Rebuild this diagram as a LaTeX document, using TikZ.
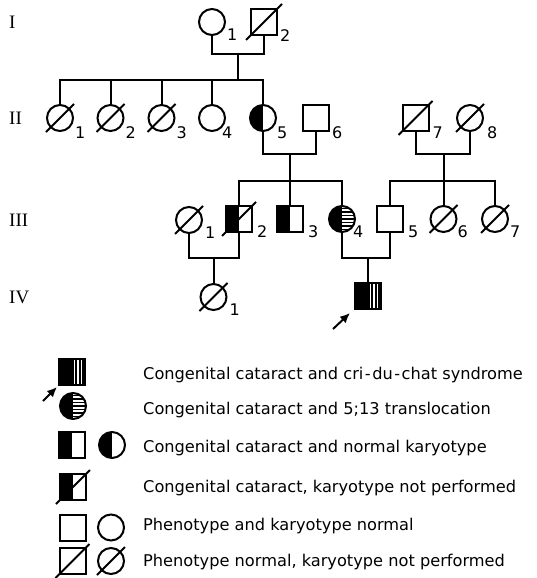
\documentclass[tikz,border=0pt]{standalone}
\usepackage{fontspec}
\newfontfamily\labfont{DejaVu Sans}
\newfontfamily\genfont{Liberation Serif}
\usetikzlibrary{arrows.meta}
\tikzset{
 sym/.style={draw, inner sep=0pt, minimum size=26pt, line width=2pt},
 sq/.style={sym, rectangle},
 ci/.style={sym, circle},
 halfblk/.style={path picture={\fill[black] (path picture bounding box.south west) rectangle (path picture bounding box.north);}},
 vstripes/.style={path picture={\fill[black] (path picture bounding box.south west) rectangle (path picture bounding box.north east);
   \foreach \d in {2.5,6,9.5}{\draw[white,line width=1.1pt] ([xshift=\d pt]path picture bounding box.north) -- ([xshift=\d pt]path picture bounding box.south);}}},
 hstripes/.style={path picture={\fill[black] (path picture bounding box.south west) rectangle (path picture bounding box.north);
   \foreach \d in {-10.5,-7,-3.5,0,3.5,7,10.5}{\draw[black,line width=1.6pt] ([yshift=\d pt]path picture bounding box.center) -- ([yshift=\d pt]path picture bounding box.east);}}},
 num/.style={font=\labfont\fontsize{16}{16}\selectfont, inner sep=0pt, anchor=base west},
 gen/.style={font=\genfont\fontsize{19}{20}\selectfont, inner sep=0pt, anchor=west},
 legtxt/.style={font=\labfont\fontsize{16.2}{18}\selectfont, inner sep=0pt, anchor=base west},
 ln/.style={line width=2pt},
 pointer/.style={line width=2pt, -{Latex[length=10pt,width=9pt]}},
}
\newcommand\pedstrike[2]{\draw[ln] ([shift={(-#2,#2)}]#1.center) -- ([shift={(#2,-#2)}]#1.center);}
\begin{document}
\begin{tikzpicture}[x=1pt,y=-1pt]
\useasboundingbox (0,0) rectangle (536,578);
% generation labels
\node[gen] (gI) at (9,22) {I};
\node[gen] (gII) at (9,118) {II};
\node[gen] (gIII) at (9,220) {III};
\node[gen] (gIV) at (9,297) {IV};
% generation I
\node[ci] (I1) at (212,22) {};
\node[sq] (I2) at (264,22) {};
\pedstrike{I2}{18}
% generation II
\node[ci] (II1) at (60,118) {}; \pedstrike{II1}{14}
\node[ci] (II2) at (110.5,118) {}; \pedstrike{II2}{14}
\node[ci] (II3) at (161.5,118) {}; \pedstrike{II3}{14}
\node[ci] (II4) at (212,118) {};
\node[ci,halfblk] (II5) at (263,118) {};
\node[sq] (II6) at (316,118) {};
\node[sq] (II7) at (415.5,118) {}; \pedstrike{II7}{17}
\node[ci] (II8) at (470,118) {}; \pedstrike{II8}{14}
% generation III
\node[ci] (III1) at (189,220) {}; \pedstrike{III1}{14}
\node[sq,halfblk] (III2) at (239,219) {}; \pedstrike{III2}{17}
\node[sq,halfblk] (III3) at (290,219) {};
\node[ci,hstripes] (III4) at (342,219) {};
\node[sq] (III5) at (390,219) {};
\node[ci] (III6) at (443.5,219) {}; \pedstrike{III6}{14}
\node[ci] (III7) at (495,219) {}; \pedstrike{III7}{14}
% generation IV
\node[ci] (IV1) at (213.5,297) {}; \pedstrike{IV1}{14}
\node[sq,vstripes] (IV2) at (368,296) {};
% connectors
\coordinate (mI) at (238,54);
\coordinate (sI) at (238,80);
\draw[ln] (I1.south) |- (mI) -| (I2.south);
\draw[ln] (mI) -- (sI);
\draw[ln] (II1.north) |- (sI) -| (II5.north);
\foreach \n in {II2,II3,II4} \draw[ln] (\n.north) -- (\n.north |- sI);
\coordinate (mII) at (290,154);
\coordinate (sII) at (290,181);
\draw[ln] (II5.south) |- (mII) -| (II6.south);
\draw[ln] (mII) -- (sII);
\draw[ln] (III2.north) |- (sII) -| (III4.north);
\draw[ln] (III3.north) -- (sII);
\coordinate (mIIb) at (443.5,154);
\coordinate (sIIb) at (443.5,181);
\draw[ln] (II7.south) |- (mIIb) -| (II8.south);
\draw[ln] (mIIb) -- (sIIb);
\draw[ln] (III5.north) |- (sIIb) -| (III7.north);
\draw[ln] (III6.north) -- (sIIb);
\coordinate (mIII) at (213.5,258);
\draw[ln] (III1.south) |- (mIII) -| (III2.south);
\draw[ln] (mIII) -- (IV1.north);
\coordinate (mIIIb) at (368,258);
\draw[ln] (III4.south) |- (mIIIb) -| (III5.south);
\draw[ln] (mIIIb) -- (IV2.north);
% proband arrow
\coordinate (pIV) at (333,329);
\draw[pointer] (pIV) -- ([shift={(-4,3)}]IV2.south west);
% numbers
\node[num] (nI1) at ([shift={(15,19)}]I1.center) {1};
\node[num] (nI2) at ([shift={(16,20)}]I2.center) {2};
\node[num] (nII1) at ([shift={(15,20)}]II1.center) {1};
\node[num] (nII2) at ([shift={(15,20)}]II2.center) {2};
\node[num] (nII3) at ([shift={(15,20)}]II3.center) {3};
\node[num] (nII4) at ([shift={(10,20)}]II4.center) {4};
\node[num] (nII5) at ([shift={(14,20)}]II5.center) {5};
\node[num] (nII6) at ([shift={(16,20)}]II6.center) {6};
\node[num] (nII7) at ([shift={(17,20)}]II7.center) {7};
\node[num] (nII8) at ([shift={(17,20)}]II8.center) {8};
\node[num] (nIII1) at ([shift={(16,18)}]III1.center) {1};
\node[num] (nIII2) at ([shift={(18,18)}]III2.center) {2};
\node[num] (nIII3) at ([shift={(18,18)}]III3.center) {3};
\node[num] (nIII4) at ([shift={(11,18)}]III4.center) {4};
\node[num] (nIII5) at ([shift={(18,18)}]III5.center) {5};
\node[num] (nIII6) at ([shift={(14,18)}]III6.center) {6};
\node[num] (nIII7) at ([shift={(15,18)}]III7.center) {7};
\node[num] (nIV1) at ([shift={(16,18)}]IV1.center) {1};
% legend
\node[sq,vstripes] (L1) at (72,372) {};
\coordinate (pL) at (43,401);
\draw[pointer] (pL) -- ([shift={(-1,1)}]L1.south west);
\node[legtxt] (t1) at (143,379) {Congenital cataract and cri\hspace{1.5pt}-\hspace{1.5pt}du\hspace{1.5pt}-\hspace{1.5pt}chat syndrome};
\node[ci,hstripes] (L2) at (73,406) {};
\node[legtxt] (t2) at (143,414) {Congenital cataract and 5;13 translocation};
\node[sq,halfblk] (L3a) at (72,445) {};
\node[ci,halfblk] (L3b) at (112,445) {};
\node[legtxt] (t3) at (143,452) {Congenital cataract and normal karyotype};
\node[sq,halfblk] (L4) at (73,487) {}; \pedstrike{L4}{17}
\node[legtxt] (t4) at (143,492) {Congenital cataract, karyotype not performed};
\node[sq] (L5a) at (72.5,527.5) {};
\node[ci] (L5b) at (111,527.5) {};
\node[legtxt] (t5) at (143,530) {Phenotype and karyotype normal};
\node[sq] (L6a) at (72.5,561) {}; \pedstrike{L6a}{17}
\node[ci] (L6b) at (111,561) {}; \pedstrike{L6b}{14}
\node[legtxt] (t6) at (143,566) {Phenotype normal, karyotype not performed};
\end{tikzpicture}
\end{document}
